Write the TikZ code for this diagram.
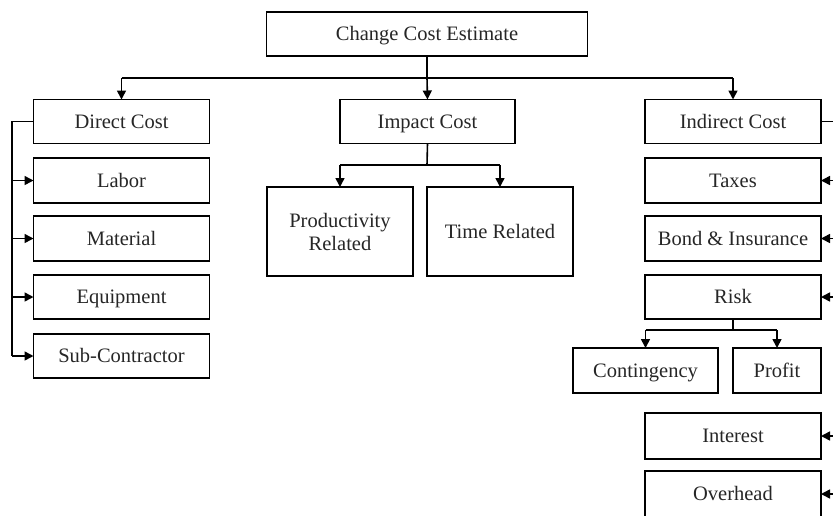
\documentclass[tikz,border=0pt]{standalone}
\usepackage{fontspec}
\setmainfont{Liberation Serif}
\usetikzlibrary{arrows.meta,calc}
\begin{document}
\begin{tikzpicture}[x=1pt,y=-1pt,
  box/.style={draw=black,line width=1.6pt,inner sep=0pt,outer sep=0pt,
    align=center,font=\fontsize{20.5}{23}\selectfont,text=black!85,
    text height=14pt,text depth=1pt},
  wire/.style={line width=1.6pt,draw=black},
  arr/.style={wire,-{Triangle[length=9pt,width=9pt]}}]
\clip (0,0) rectangle (833,515);
\useasboundingbox (0,0) rectangle (833,515);
% root
\node[box,minimum width=321pt,minimum height=44pt] (cce) at (427,34) {Change Cost Estimate};
% direct cost column
\node[box,minimum width=176pt,minimum height=44pt] (direct) at (121.5,121.5) {Direct Cost};
\node[box,minimum width=176pt,minimum height=45pt] (labor) at (121.5,180.5) {Labor};
\node[box,minimum width=176pt,minimum height=45pt] (material) at (121.5,238.5) {Material};
\node[box,minimum width=176pt,minimum height=44pt] (equip) at (121.5,297) {Equipment};
\node[box,minimum width=176pt,minimum height=44pt] (sub) at (121.5,356) {Sub-Contractor};
% impact cost column
\node[box,minimum width=175pt,minimum height=44pt] (impact) at (427.5,121.5) {Impact Cost};
\node[box,minimum width=146pt,minimum height=89pt,text height=,text depth=] (prod) at (340,231.5) {Productivity\\Related};
\node[box,minimum width=146pt,minimum height=89pt] (time) at (500,231.5) {Time Related};
% indirect cost column
\node[box,minimum width=176pt,minimum height=44pt] (indirect) at (733,121.5) {Indirect Cost};
\node[box,minimum width=176pt,minimum height=45pt] (taxes) at (733,180.5) {Taxes};
\node[box,minimum width=176pt,minimum height=45pt] (bond) at (733,238.5) {Bond \& Insurance};
\node[box,minimum width=176pt,minimum height=44pt] (risk) at (733,297) {Risk};
\node[box,minimum width=145pt,minimum height=45pt] (cont) at (645.5,370.5) {Contingency};
\node[box,minimum width=88pt,minimum height=45pt] (profit) at (777,370.5) {Profit};
\node[box,minimum width=176pt,minimum height=46pt] (interest) at (733,436) {Interest};
\node[box,minimum width=176pt,minimum height=46pt] (overhead) at (733,494) {Overhead};
% bus coordinates
\coordinate (topbus) at (427,78);
\coordinate (lbus) at (12,0);
\coordinate (rbus) at (845,0);
\coordinate (ibus) at (427,165);
\coordinate (kbus) at (733,330);
% root to the three cost groups
\draw[wire] (cce.south) -- (topbus);
\draw[wire] (direct.north |- topbus) -- (indirect.north |- topbus);
\draw[arr] (direct.north |- topbus) -- (direct.north);
\draw[arr] (topbus) -- (impact.north);
\draw[arr] (indirect.north |- topbus) -- (indirect.north);
% direct cost items
\draw[wire] (direct.west) -- (lbus |- direct) -- (lbus |- sub);
\foreach \n in {labor,material,equip,sub}
  \draw[arr] (lbus |- \n) -- (\n.west);
% impact cost items
\draw[wire] (impact.south) -- (ibus);
\draw[wire] (prod.north |- ibus) -- (time.north |- ibus);
\draw[arr] (prod.north |- ibus) -- (prod.north);
\draw[arr] (time.north |- ibus) -- (time.north);
% indirect cost items
\draw[wire] (indirect.east) -- (rbus |- indirect) -- (rbus |- overhead);
\foreach \n in {taxes,bond,risk,interest,overhead}
  \draw[arr] (rbus |- \n) -- (\n.east);
% risk split
\draw[wire] (risk.south) -- (kbus);
\draw[wire] (cont.north |- kbus) -- (profit.north |- kbus);
\draw[arr] (cont.north |- kbus) -- (cont.north);
\draw[arr] (profit.north |- kbus) -- (profit.north);
\end{tikzpicture}
\end{document}
